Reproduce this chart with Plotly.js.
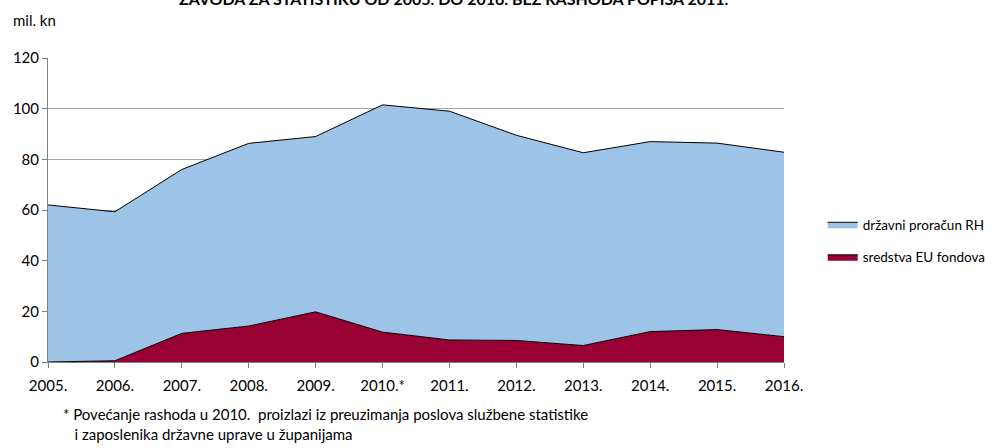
<!DOCTYPE html>
<html><head><meta charset="utf-8">
<script src="https://cdn.plot.ly/plotly-3.0.1.min.js"></script>
<style>body{margin:0;background:#fff}#c{width:996px;height:448px}</style>
</head><body><div id="c"></div>
<script>
const years = ["2005.","2006.","2007.","2008.","2009.","2010.*","2011.","2012.","2013.","2014.","2015.","2016."];
const euFondovi = [0, 0.5, 11.3, 14.2, 19.8, 11.8, 8.7, 8.5, 6.5, 12, 12.8, 10];
const drzavniProracun = [62, 58.8, 64.7, 72.1, 69.2, 89.7, 90.3, 81, 76.1, 75, 73.6, 72.8];
const yTicks = [0, 20, 40, 60, 80, 100, 120];

const fnt = "Lato, 'Open Sans', sans-serif";
const traces = [
  {x: years, y: euFondovi, name: "sredstva EU fondova", type: "scatter", mode: "lines",
   stackgroup: "a", fillcolor: "#990033", line: {color: "#000", width: 1}, legendrank: 2, legendgroup: "b"},
  {x: years, y: drzavniProracun, name: "državni proračun RH", type: "scatter", mode: "lines",
   stackgroup: "a", fillcolor: "#9DC3E6", line: {color: "#000", width: 1}, legendrank: 1, legendgroup: "a"}
];
const layout = {
  width: 996, height: 448,
  margin: {l: 48, r: 212, t: 58, b: 86, autoexpand: false},
  paper_bgcolor: "#fff", plot_bgcolor: "#fff",
  font: {family: fnt, size: 14, color: "#000"},
  showlegend: true,
  legend: {xref: "container", yref: "container", x: 0.826, y: 0.462, xanchor: "left", yanchor: "middle",
    traceorder: "grouped", tracegroupgap: 12, font: {size: 13.5, family: fnt}, itemwidth: 30},
  xaxis: {type: "category", range: [0, 11], showgrid: false, showline: true, linecolor: "#808080",
    ticks: "outside", ticklen: 5, tickcolor: "#808080", ticklabelstandoff: 5,
    tickfont: {size: 15, family: fnt}, fixedrange: true},
  yaxis: {range: [0, 120], tickvals: yTicks, showgrid: true, gridcolor: "#A6A6A6", gridwidth: 1,
    showline: true, linecolor: "#808080", ticks: "outside", ticklen: 5, tickcolor: "#808080",
    zeroline: false, tickfont: {size: 15, family: fnt}, fixedrange: true},
  annotations: [
    {text: "ZAVODA ZA STATISTIKU OD 2005. DO 2016. BEZ RASHODA POPISA 2011.", xref: "paper", yref: "paper",
     x: 0.552, y: 1.158, xanchor: "center", yanchor: "bottom", showarrow: false,
     font: {size: 16, family: fnt, weight: "bold", color: "#000"}},
    {text: "mil. kn", xref: "paper", yref: "paper", x: -0.05, y: 1.125, xanchor: "left", yanchor: "middle",
     showarrow: false, font: {size: 15, family: fnt}},
    {text: "* Povećanje rashoda u 2010.  proizlazi iz preuzimanja poslova službene statistike<br>   i zaposlenika državne uprave u županijama",
     xref: "paper", yref: "paper", x: 0.017, y: -0.135, xanchor: "left", yanchor: "top", align: "left",
     showarrow: false, font: {size: 15, family: fnt}}
  ]
};
Plotly.newPlot("c", traces, layout, {displayModeBar: false, staticPlot: true});
</script></body></html>
